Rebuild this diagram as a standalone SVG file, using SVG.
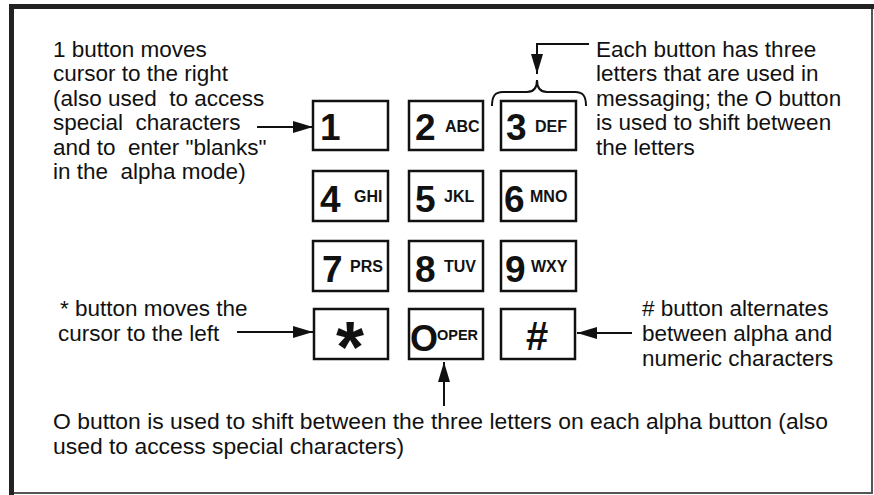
<svg xmlns="http://www.w3.org/2000/svg" width="874" height="495" viewBox="0 0 874 495">
<style>
.lbl{font-family:"Liberation Sans",Arial,sans-serif;font-size:22.5px;fill:#111;white-space:pre}
.wide{font-size:22.9px}
.btn{fill:#fff;stroke:#111;stroke-width:2.5}
.dg{font-family:"Liberation Sans",Arial,sans-serif;font-weight:bold;font-size:37px;fill:#111}
.lt{font-family:"Liberation Sans",Arial,sans-serif;font-weight:bold;font-size:16px;fill:#111}
.ln{fill:none;stroke:#111;stroke-width:2}
</style>
<defs>
<marker id="ah" markerUnits="userSpaceOnUse" markerWidth="20" markerHeight="12" refX="20" refY="6" orient="auto">
<path d="M0,0 L20,6 L0,12 z" fill="#111"/>
</marker>
</defs>
<rect x="0" y="0" width="874" height="495" fill="#fff"/>
<g id="frame">
<path d="M11.5,495 V6.5 H874" fill="none" stroke="#222" stroke-width="5"/>
<path d="M872,9 V493 H14" fill="none" stroke="#555" stroke-width="2"/>
</g>
<g id="key1"><rect class="btn" x="313" y="101" width="75" height="49"/><text class="dg" x="320" y="140">1</text></g>
<g id="key2"><rect class="btn" x="409" y="101" width="74" height="49"/><text class="dg" x="415" y="140">2</text><text class="lt" x="445" y="132">ABC</text></g>
<g id="key3"><rect class="btn" x="501" y="101" width="75" height="49"/><text class="dg" x="506" y="140">3</text><text class="lt" x="535" y="132">DEF</text></g>
<g id="key4"><rect class="btn" x="313" y="171" width="75" height="50"/><text class="dg" x="320" y="212">4</text><text class="lt" x="354" y="202">GHI</text></g>
<g id="key5"><rect class="btn" x="409" y="171" width="74" height="50"/><text class="dg" x="415" y="212">5</text><text class="lt" x="444" y="202">JKL</text></g>
<g id="key6"><rect class="btn" x="501" y="171" width="75" height="50"/><text class="dg" x="504" y="212">6</text><text class="lt" x="530" y="202">MNO</text></g>
<g id="key7"><rect class="btn" x="313" y="241" width="75" height="50"/><text class="dg" x="322" y="282">7</text><text class="lt" x="350" y="272">PRS</text></g>
<g id="key8"><rect class="btn" x="409" y="241" width="74" height="50"/><text class="dg" x="415" y="282">8</text><text class="lt" x="444" y="272">TUV</text></g>
<g id="key9"><rect class="btn" x="501" y="241" width="75" height="50"/><text class="dg" x="505" y="282">9</text><text class="lt" x="531" y="272">WXY</text></g>
<g id="keystar"><rect class="btn" x="314" y="309" width="74" height="50"/><text class="dg" x="350" y="372" text-anchor="middle" style="font-size:72px">*</text></g>
<g id="key0"><rect class="btn" x="409" y="309" width="74" height="50"/><text class="dg" x="410" y="351" style="font-size:36px">O</text><text class="lt" x="437" y="340" style="font-size:14.5px">OPER</text></g>
<g id="keyhash"><rect class="btn" x="501" y="309" width="74" height="50"/><text class="dg" x="537" y="350" text-anchor="middle" style="font-size:40px">#</text></g>
<g id="connectors">
<line class="ln" x1="257" y1="127" x2="313" y2="127" marker-end="url(#ah)"/>
<line class="ln" x1="237" y1="332" x2="313" y2="332" marker-end="url(#ah)"/>
<line class="ln" x1="632" y1="333" x2="577" y2="333" marker-end="url(#ah)"/>
<line class="ln" x1="444" y1="406" x2="444" y2="362" marker-end="url(#ah)"/>
<polyline class="ln" points="589,44 537,44 537,74" marker-end="url(#ah)"/>
<path class="ln" d="M492,106 C492,96 495,92 503,92 H527 C534,92 537,88 537,80 C537,88 540,92 547,92 H575 C583,92 586,96 586,106"/>
</g>
<g id="label1">
<text class="lbl" x="53" y="56.5">1 button moves</text>
<text class="lbl" x="53" y="81">cursor to the right</text>
<text class="lbl" x="53" y="105.5">(also used  to access</text>
<text class="lbl" x="53" y="130">special  characters</text>
<text class="lbl" x="53" y="154.5">and to  enter "blanks"</text>
<text class="lbl" x="53" y="178.5">in the  alpha mode)</text>
</g>
<g id="label3">
<text class="lbl" x="596" y="56.5">Each button has three</text>
<text class="lbl" x="596" y="81">letters that are used in</text>
<text class="lbl" x="596" y="105.5">messaging; the O button</text>
<text class="lbl" x="596" y="130">is used to shift between</text>
<text class="lbl" x="596" y="154.5">the letters</text>
</g>
<g id="labelstar">
<text class="lbl" x="60" y="316">* button moves the</text>
<text class="lbl" x="58" y="341">cursor to the left</text>
</g>
<g id="labelhash">
<text class="lbl" x="642" y="316"># button alternates</text>
<text class="lbl" x="642" y="341">between alpha and</text>
<text class="lbl" x="642" y="365.5">numeric characters</text>
</g>
<g id="label0">
<text class="lbl wide" x="53" y="429">O button is used to shift between the three letters on each alpha button (also</text>
<text class="lbl wide" x="53" y="453.5">used to access special characters)</text>
</g>
</svg>
